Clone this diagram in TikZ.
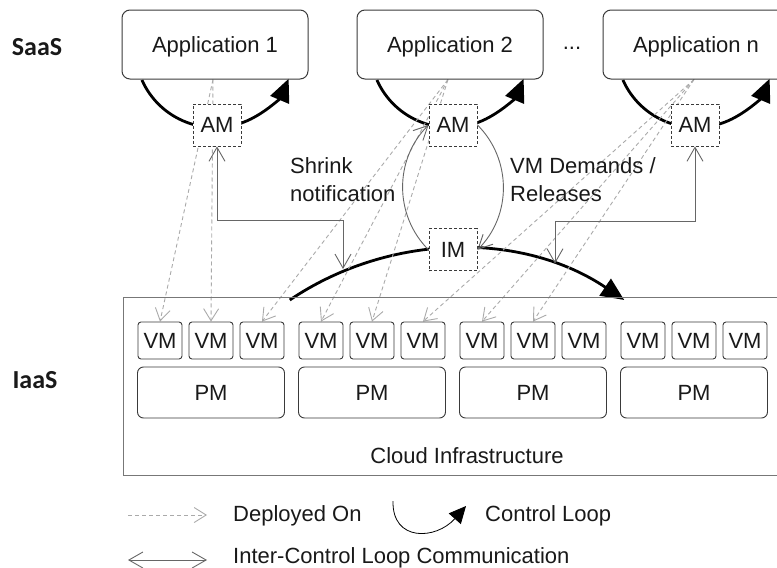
\documentclass[tikz,border=0pt]{standalone}
\usepackage{fontspec}
\setmainfont{Liberation Sans}
\newfontfamily\layerfont{Carlito}
\usetikzlibrary{positioning,arrows.meta,backgrounds}

\definecolor{boxgray}{HTML}{3A3A3A}
\definecolor{linegray}{HTML}{666666}
\definecolor{dashgray}{HTML}{AAAAAA}
\definecolor{framegray}{HTML}{777777}

\begin{document}
\begin{tikzpicture}[x=1pt, y=1pt,
every node/.style={font=\fontsize{22}{28}\selectfont, text=black!90},
app/.style={draw=boxgray, line width=1pt, rounded corners=8pt, minimum width=186pt, minimum height=69pt, text depth=0pt},
mgr/.style={draw=boxgray, line width=0.9pt, dash pattern=on 3pt off 2pt, fill=white, minimum width=48pt, minimum height=42pt, inner sep=0pt},
vm/.style={draw=boxgray, line width=0.9pt, rounded corners=3pt, minimum width=44pt, minimum height=37pt, inner sep=0pt},
pm/.style={draw=boxgray, line width=0.9pt, rounded corners=6pt, minimum width=147pt, minimum height=51pt},
layer/.style={font=\layerfont\bfseries\fontsize{26}{30}\selectfont},
txt/.style={anchor=west, inner sep=0pt, align=left},
ctrlloop/.style={line width=2.8pt, -{Triangle[length=23pt,width=20pt]}},
deploy/.style={draw=dashgray, line width=0.9pt, dash pattern=on 4pt off 3pt, -{Straight Barb[length=12pt,width=15pt]}},
comm/.style={draw=linegray, line width=0.9pt, {Straight Barb[length=14pt,width=16pt]}-{Straight Barb[length=14pt,width=16pt]}},
note/.style={draw=linegray, line width=0.9pt, -{Straight Barb[length=14pt,width=14pt]}}
]
\useasboundingbox (0,0) rectangle (777,-568);
\clip (0,0) rectangle (777,-568);
%Layers
\node[layer] (saas) at (37,-47) {SaaS};
\node[layer] (iaas) at (35,-380) {IaaS};
%Applications
\node[app] (app1) at (215,-44.5)               {Application 1};
\node[app] (app2) [right=48pt of app1]         {Application 2};
\node      (dots) at (572,-48)                 {...};
\node[app] (appn) [right=59pt of app2]         {Application n};
%Managers
\node[mgr] (am1) [below=24pt of app1, xshift=2pt]  {AM};
\node[mgr] (am2) [below=24pt of app2, xshift=3pt]  {AM};
\node[mgr] (amn) [below=24pt of appn, xshift=-1pt] {AM};
\node[mgr] (im)  [below=82pt of am2]               {IM};
%Infrastructure
\node[draw=framegray, line width=1.3pt, minimum width=667pt, minimum height=178pt, inner sep=0pt] (cloud) at (457,-386.7) {};
\node (cloudlbl) at (467,-456) {Cloud Infrastructure};
\foreach \g in {0,...,3}{
  \node[pm] (pm\g) at ({211+161*\g},-392.5) {PM};
  \foreach \v in {1,2,3}{
    \pgfmathtruncatemacro{\n}{3*\g+\v}
    \node[vm] (vm\n) at ({211+161*\g+51*(\v-2)},-340.5) {VM};
  }
}
\begin{pgfonlayer}{background}
%Control loops
\foreach \a in {app1,app2,appn}
  \draw[ctrlloop] ([yshift=32pt]\a.south) ++(-156:80) arc[start angle=-156, end angle=-23, radius=80];
\draw[ctrlloop] ([xshift=4pt, yshift=-298pt]im.center) ++(124:299) arc[start angle=124, end angle=56, radius=299];
%Deployed on
\foreach \s/\t in {app1/vm1, app1/vm2, app2/vm3, app2/vm4, app2/vm5, appn/vm6, appn/vm7, appn/vm8}
  \draw[deploy] ([xshift=-2pt]\s.south) -- (\t.north);
\end{pgfonlayer}
%Inter-control loop communication
\coordinate (bendl) at (343,-220);
\coordinate (hitl)  at (343,-269);
\coordinate (bendr) at (555,-221.7);
\coordinate (hitr)  at (555,-263.6);
\draw[comm] (am1.south) |- (bendl) -- (hitl);
\draw[comm] (amn.south) |- (bendr) -- (hitr);
\draw[note] (im.west) to[bend left=45] (am2.west);
\draw[note] (am2.east) to[bend left=45] (im.east);
\node[txt] (shrink)  at (290,-180) {Shrink\\notification};
\node[txt] (demands) at (510,-180) {VM Demands /\\Releases};
%Legend
\coordinate (depa)  at (128,-515);
\coordinate (depb)  at (207,-515);
\coordinate (loopa) at (393,-501);
\coordinate (loopb) at (466,-506);
\coordinate (comma) at (128,-560);
\coordinate (commb) at (207,-560);
\draw[deploy] (depa) -- (depb);
\node[txt] (deplbl) at (233,-516) {Deployed On};
\draw[line width=0.8pt, -{Triangle[length=17pt,width=16pt]}] (loopa) .. controls (392,-542) and (436,-540) .. (loopb);
\node[txt] (looplbl) at (485,-516) {Control Loop};
\draw[comm] (comma) -- (commb);
\node[txt] (commlbl) at (233,-558) {Inter-Control Loop Communication};
\end{tikzpicture}
\end{document}
